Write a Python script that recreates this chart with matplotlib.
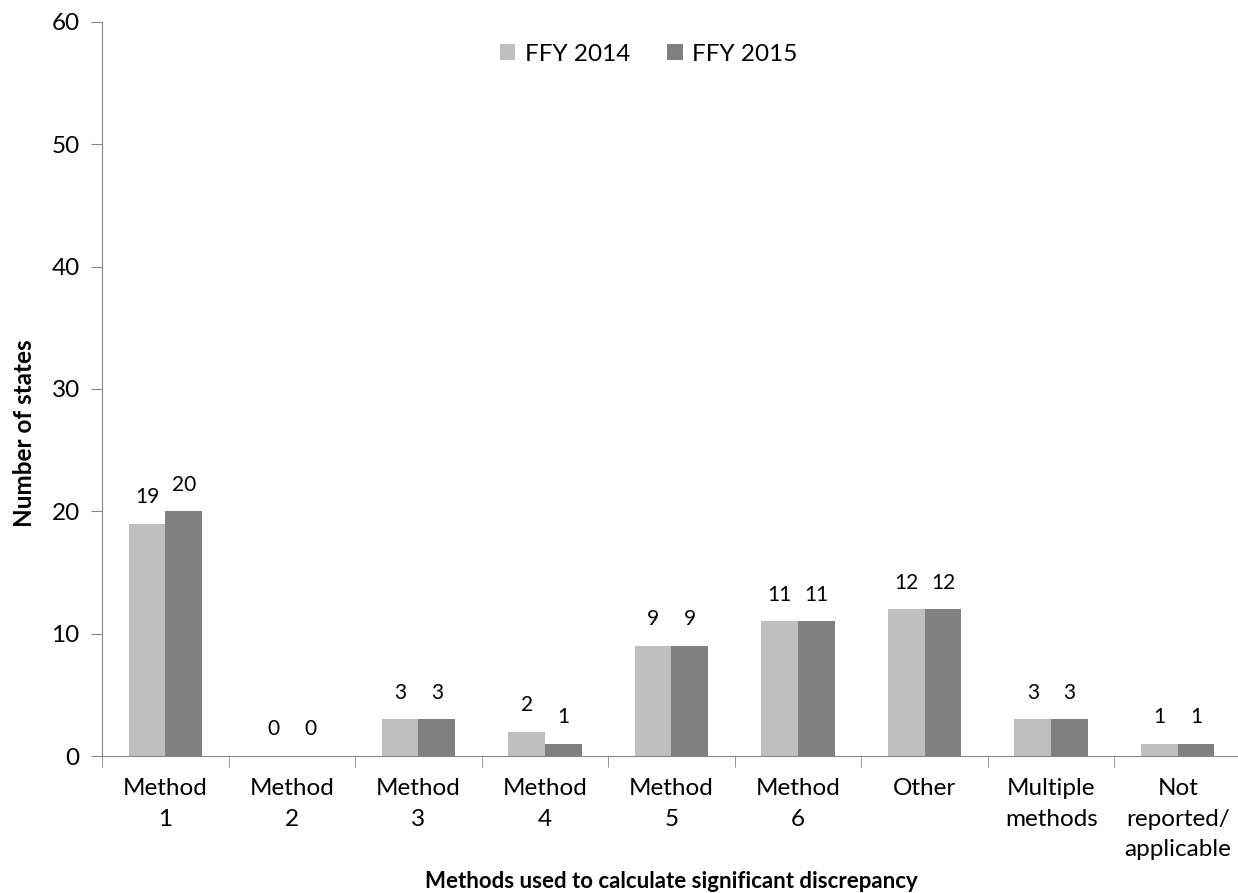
import numpy as np
import matplotlib
matplotlib.use("Agg")
import matplotlib.pyplot as plt
from matplotlib.ticker import FixedLocator, MultipleLocator

plt.rcParams['font.family'] = ['Lato', 'DejaVu Sans']

# data
categories = ["Method\n1", "Method\n2", "Method\n3", "Method\n4", "Method\n5",
              "Method\n6", "Other", "Multiple\nmethods", "Not\nreported/\napplicable"]
ffy_2014 = [19, 0, 3, 2, 9, 11, 12, 3, 1]
ffy_2015 = [20, 0, 3, 1, 9, 11, 12, 3, 1]
series_names = ["FFY 2014", "FFY 2015"]

light = "#BFBFBF"
dark = "#808080"
axis_col = "#868686"

fig = plt.figure(figsize=(12.38, 8.93), dpi=100)
ax = fig.add_axes([0.0824, 0.1534, 0.920, 0.822])

x = np.arange(len(categories))
w = 0.29
b1 = ax.bar(x - w / 2, ffy_2014, w, color=light, label=series_names[0])
b2 = ax.bar(x + w / 2, ffy_2015, w, color=dark, label=series_names[1])

for bars in (b1, b2):
    ax.bar_label(bars, padding=12, fontsize=15)

ax.set_xlim(-0.5, len(categories) - 0.5)
ax.set_ylim(0, 60)
ax.yaxis.set_major_locator(MultipleLocator(10))

ax.set_xticks(x)
ax.set_xticklabels(categories, fontsize=17.5, linespacing=1.55, va="top")
ax.xaxis.set_minor_locator(FixedLocator(np.arange(len(categories) + 1) - 0.5))
ax.tick_params(axis="x", which="major", length=0, pad=16)
ax.tick_params(axis="x", which="minor", length=8, color=axis_col, direction="out")
ax.tick_params(axis="y", length=8, color=axis_col, labelsize=17.5, pad=8)

for s in ("top", "right"):
    ax.spines[s].set_visible(False)
for s in ("left", "bottom"):
    ax.spines[s].set_color(axis_col)

ax.set_ylabel("Number of states", fontsize=17.5, fontweight="bold")
ax.yaxis.set_label_coords(-0.058, 0.44)
ax.set_xlabel("Methods used to calculate significant discrepancy", fontsize=16,
              fontweight="bold")
ax.xaxis.set_label_coords(0.5, -0.157)

ax.legend(loc="upper center", bbox_to_anchor=(0.48, 1.0), ncol=2, frameon=False,
          fontsize=17.5, handlelength=0.65, handleheight=0.65, handletextpad=0.4,
          columnspacing=1.5)

fig.savefig("out.png", dpi=100)
